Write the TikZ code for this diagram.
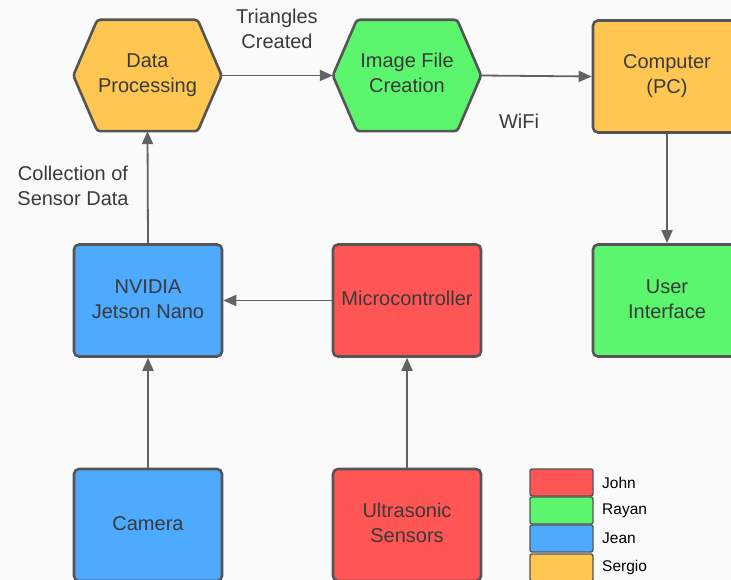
\documentclass[tikz,border=0pt]{standalone}
\usepackage{fontspec}
\setmainfont{Liberation Sans}
\usetikzlibrary{arrows.meta,backgrounds,calc}
\definecolor{cred}{HTML}{FF5555}
\definecolor{cgreen}{HTML}{5CF56E}
\definecolor{cblue}{HTML}{4DAAFF}
\definecolor{corange}{HTML}{FFC751}
\definecolor{cborder}{HTML}{555555}
\definecolor{ctext}{HTML}{3A3A3A}
\definecolor{cline}{HTML}{626262}
\definecolor{cbg}{HTML}{FAFAFA}
\newcommand{\dropby}[1]{\rule[-#1]{0pt}{0pt}}
\tikzset{
  block/.style={draw=cborder, line width=2.6pt, rounded corners=5pt,
    minimum width=148pt, minimum height=112pt, inner sep=0pt,
    align=center, text=ctext, font=\fontsize{20}{25}\selectfont},
  hexlabel/.style={minimum width=148pt, minimum height=111pt, inner sep=0pt,
    align=center, text=ctext, font=\fontsize{20}{25}\selectfont},
  hexshape/.style={draw=cborder, line width=2.6pt, rounded corners=3pt},
  conn/.style={draw=cline, line width=1.8pt, -{Triangle[length=13pt,width=11pt]}},
  lbl/.style={align=center, text=ctext, font=\fontsize{20}{25}\selectfont},
  legbox/.style={draw=cborder, line width=1.4pt, rounded corners=2pt,
    minimum width=63pt, minimum height=27pt, inner sep=0pt},
  legtext/.style={anchor=west, text=black, font=\fontsize{15.5}{18}\selectfont, inner sep=0pt}
}
\begin{document}
\begin{tikzpicture}[x=1pt,y=-1pt]
\useasboundingbox (0,0) rectangle (731,580);
\clip (0,0) rectangle (731,580);
\begin{scope}[on background layer]
  \fill[cbg] (0,0) rectangle (731,580);
\end{scope}

% hexagon nodes
\node[hexlabel] (dp) at (147.5,75.5) {Data\\Processing};
\node[hexlabel] (ifc) at (407,75.5) {Image File\\Creation\dropby{6pt}};
\begin{scope}[on background layer]
  \draw[hexshape, fill=corange] ($(dp.north west)+(24,0)$) -- ($(dp.north east)+(-24,0)$)
    -- (dp.east) -- ($(dp.south east)+(-24,0)$) -- ($(dp.south west)+(24,0)$) -- (dp.west) -- cycle;
  \draw[hexshape, fill=cgreen] ($(ifc.north west)+(24,0)$) -- ($(ifc.north east)+(-24,0)$)
    -- (ifc.east) -- ($(ifc.south east)+(-24,0)$) -- ($(ifc.south west)+(24,0)$) -- (ifc.west) -- cycle;
\end{scope}

% rectangular blocks
\node[block, fill=corange] (pc) at (667,76.5) {Computer\\(PC)\dropby{2pt}};
\node[block, fill=cblue] (nv) at (148,300.5) {NVIDIA\\Jetson Nano\dropby{2pt}};
\node[block, fill=cred] (mc) at (407,300.5) {Microcontroller\dropby{4pt}};
\node[block, fill=cgreen] (ui) at (667,300.5) {User\\Interface\dropby{2pt}};
\node[block, fill=cblue] (cam) at (148,525) {Camera\dropby{2pt}};
\node[block, fill=cred] (us) at (407,525) {Ultrasonic\\Sensors\dropby{4pt}};

% connectors
\draw[conn] (dp.east) -- (ifc.west);
\draw[conn] (ifc.east) -- (pc.west);
\draw[conn] (pc.south) -- (ui.north);
\draw[conn] (nv.north) -- (dp.south);
\draw[conn] (mc.west) -- (nv.east);
\draw[conn] (cam.north) -- (nv.south);
\draw[conn] (us.north) -- (mc.south);

% labels
\node[lbl] (tri) at (277,29) {Triangles\\Created};
\node[lbl] (wifi) at (519,121) {WiFi};
\node[lbl] (col) at (73,185.5) {Collection of\\Sensor Data};

% legend
\node[legbox, fill=cred] (lj) at (561.5,482.5) {};
\node[legbox, fill=cgreen] (lr) at (561.5,510.5) {};
\node[legbox, fill=cblue] (lje) at (561.5,538.5) {};
\node[legbox, fill=corange] (ls) at (561.5,567.5) {};
\node[legtext] (tj) at (602,482.5) {John};
\node[legtext] (tr) at (602,510.5) {Rayan};
\node[legtext] (tje) at (602,538.5) {Jean};
\node[legtext] (ts) at (602,567.5) {Sergio};
\end{tikzpicture}
\end{document}
